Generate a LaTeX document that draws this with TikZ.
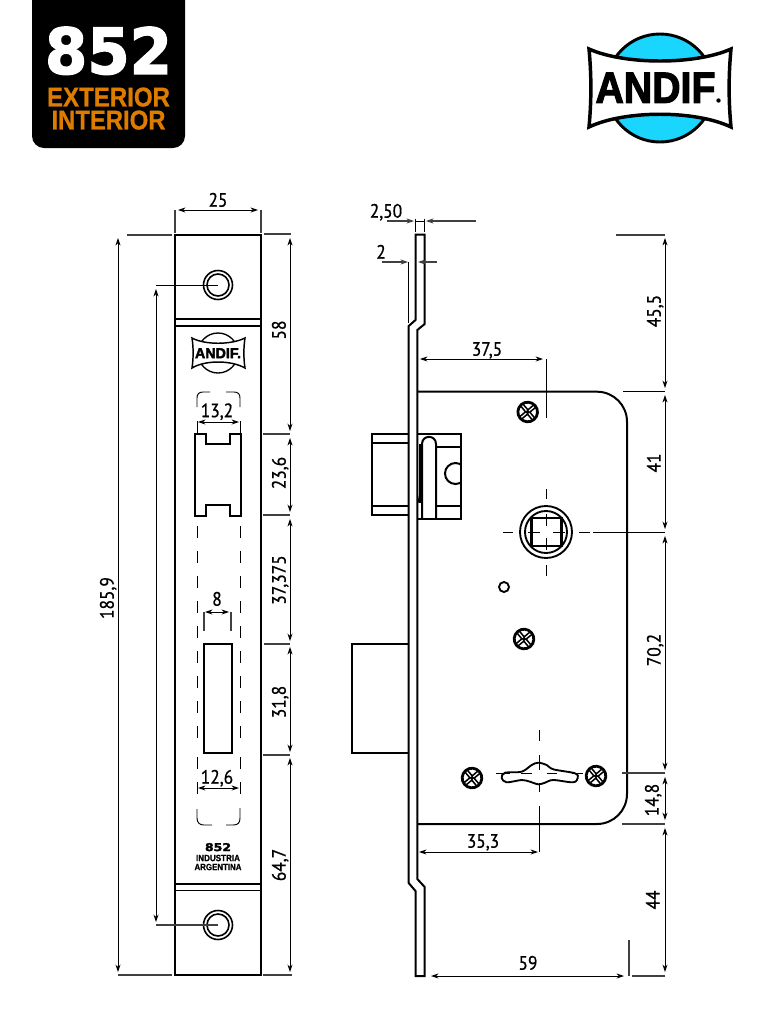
\documentclass[tikz,border=0pt]{standalone}
\usepackage{fontspec}
\usepackage{graphicx}
\usetikzlibrary{arrows.meta}
\setmainfont[FakeBold=0.8,FakeStretch=0.9]{PT Sans}
\newfontfamily\heavy[BoldFeatures={FakeBold=2.2}]{DejaVu Sans}
\newfontfamily\heavyb[BoldFeatures={FakeBold=0.8}]{Liberation Sans}
\newfontfamily\heavyc[BoldFeatures={FakeBold=2.6}]{Liberation Sans}
\definecolor{andifblue}{HTML}{1AD6FF}
\definecolor{badgeorange}{HTML}{DE7C00}
\definecolor{extgray}{HTML}{404040}
\tikzset{
  obj/.style={line width=1.5pt,black,line join=miter},
  thinobj/.style={line width=0.9pt,black},
  dim/.style={line width=0.75pt,black,{Stealth[length=5.6pt,width=3.8pt]}-{Stealth[length=5.6pt,width=3.8pt]}},
  onearrow/.style={line width=0.9pt,extgray,-{Stealth[length=5.6pt,width=3.8pt]}},
  ext/.style={line width=0.9pt,extgray},
  extk/.style={line width=0.7pt,black},
  cl/.style={line width=0.75pt,black},
  lab/.style={inner sep=0pt,font=\fontsize{14.5pt}{14.5pt}\selectfont,text height=10pt,text depth=0pt,black},
  rlab/.style={lab,rotate=90},
}
\newcommand{\screw}[3]{%
  \begin{scope}[shift={(#1,#2)},rotate=#3]
    \fill[white] (0,0) circle (10);
    \draw[line width=3.4pt,black] (-8.5,0) -- (8.5,0) (0,-8.5) -- (0,8.5);
    \draw[line width=0.9pt,white] (-9,0) -- (-1.8,0) (1.8,0) -- (9,0) (0,-9) -- (0,-1.8) (0,1.8) -- (0,9);
    \draw[line width=2.1pt,black] (0,0) circle (9.8);
  \end{scope}}
\begin{document}
\begin{tikzpicture}[x=0.75pt,y=-0.75pt]
\useasboundingbox (0,0) rectangle (768,1033);
\fill[white] (0,0) rectangle (768,1033);
% badge
\fill[black,rounded corners=9pt] (32,-20) -- (185,-20) -- (185,148) -- (32,148) -- cycle;
\node[inner sep=0,white,anchor=south] (bignum) at (108.5,75) {\resizebox{95.25pt}{35.25pt}{\heavy\bfseries 852}};
\node[inner sep=0,badgeorange,anchor=south] (ext) at (108.5,107) {\resizebox{92.25pt}{14.25pt}{\heavyb\bfseries EXTERIOR}};
\node[inner sep=0,badgeorange,anchor=south] (int) at (108.5,130) {\resizebox{85.5pt}{14.25pt}{\heavyb\bfseries INTERIOR}};
% logo
\draw[fill=andifblue,line width=2.2pt] (660,88) circle (54);
\draw[fill=white,line width=2.6pt,line join=miter] (589,49) .. controls (625,65) and (695,65) .. (731,49)
  .. controls (728.5,75) and (728.5,101) .. (731,127)
  .. controls (695,110) and (625,110) .. (589,127)
  .. controls (591.5,101) and (591.5,75) .. (589,49) -- cycle;
\node[inner sep=0,anchor=south] (logotext) at (655.5,103) {\resizebox{90pt}{22.5pt}{\heavyc\bfseries ANDIF}};
\fill (718.5,100.5) circle (2.2);
% plate front
\draw[obj] (175,234.5) rectangle (261,975);
\draw[obj] (175,318.5) -- (261,318.5);
\draw[obj] (175,326) -- (261,326);
\draw[obj] (175,884) -- (261,884);
\draw[line width=1.1pt] (175,890.5) -- (261,890.5);
\foreach \y in {285,925}{
  \draw[line width=1.2pt] (218,\y) circle (14.5);
  \draw[line width=1.2pt] (218,\y) circle (11);
}
% small logo
\draw[line width=1pt] (218,353) circle (20);
\draw[fill=white,line width=1.1pt] (192,338) .. controls (205,345) and (231,345) .. (245,338)
  .. controls (243.5,348) and (243.5,358) .. (245,368)
  .. controls (231,360) and (205,360) .. (192,368)
  .. controls (193.5,358) and (193.5,348) .. (192,338) -- cycle;
\node[inner sep=0,anchor=south] (smalllogo) at (218,358.5) {\resizebox{34.5pt}{7.5pt}{\heavyc\bfseries ANDIF.}};
% dashed outline
\draw[line width=0.7pt] (197,407) -- (197,398) .. controls (197,394) and (199,392) .. (203,392) -- (210,392);
\draw[line width=0.7pt] (226,392) -- (234,392) .. controls (238,392) and (240,394) .. (240,398) -- (240,407);
\draw[line width=0.7pt] (197,809) -- (197,818) .. controls (197,823) and (200,825) .. (204,825) -- (212,825);
\draw[line width=0.7pt] (226,825) -- (233,825) .. controls (238,825) and (240,823) .. (240,818) -- (240,808);
\foreach \y in {526,551,576,601,626,651,676,701,726,757}{
  \draw[line width=0.7pt] (197,\y) -- (197,\y+12);
  \draw[line width=0.7pt] (240,\y) -- (240,\y+12);
}
% latch opening
\draw[obj] (195,434) -- (206,434) -- (206,444) -- (230,444) -- (230,434) -- (241,434) -- (241,516) -- (230,516) -- (230,505) -- (206,505) -- (206,516) -- (195,516) -- cycle;
\draw[obj] (204,644) rectangle (232,753);
% left dims
\draw[dim] (178,210) -- (258,210);
\draw[ext] (175,210) -- (175,233) (261,210) -- (261,233);
\node[lab] (l25) at (218,200) {25};
\draw[dim] (118,238) -- (118,972);
\draw[ext] (127,235) -- (172,235) (118,975) -- (172,975);
\node[rlab] (l185) at (107,598) {185,9};
\draw[dim] (156,289) -- (156,922);
\draw[extk] (156,285) -- (218,285);
\draw[ext] (156,925) -- (218,925);
\draw[dim] (290,238) -- (290,431);
\draw[dim] (290,438) -- (290,512);
\draw[dim] (290,519) -- (290,641);
\draw[dim] (290,647) -- (290,752);
\draw[dim] (290,758) -- (290,972);
\draw[ext] (264,234) -- (291,234) (263,434) -- (290,434) (263,515) -- (290,515) (264,644) -- (290,644) (263,755) -- (290,755) (263,975) -- (292,975);
\node[rlab] (l58) at (279,330) {58};
\node[rlab] (l236) at (279,473) {23,6};
\node[rlab] (l37375) at (279,580) {37,375};
\node[rlab] (l318) at (279,702) {31,8};
\node[rlab] (l647) at (279,865) {64,7};
\draw[dim] (198,422) -- (239,422);
\draw[extk] (197,421) -- (197,433) (240,421) -- (240,433);
\node[lab] (l132) at (217,410.5) {13,2};
\draw[dim] (205,612) -- (229,612);
\draw[ext] (204,612) -- (204,631) (231,612) -- (231,631);
\node[lab] (l8) at (217,599) {8};
\draw[dim] (198,788) -- (239,788);
\draw[extk] (197,782) -- (197,794) (240,782) -- (240,794);
\node[lab] (l126) at (217,777) {12,6};
\node[inner sep=0,anchor=south] (t852) at (218,851.5) {\resizebox{19.5pt}{6pt}{\heavy\bfseries 852}};
\node[inner sep=0,anchor=south] (tind) at (218,861.5) {\resizebox{33pt}{4.8pt}{\heavyb\bfseries INDUSTRIA}};
\node[inner sep=0,anchor=south] (targ) at (218,870.5) {\resizebox{35.2pt}{4.8pt}{\heavyb\bfseries ARGENTINA}};
% side profile
\draw[obj] (415.5,234.5) -- (424.7,234.5) -- (424.7,324) -- (417.3,330) -- (417.3,879) -- (424.7,887) -- (424.7,976) -- (415.5,976) -- (415.5,891) -- (408.7,883) -- (408.7,326) -- (415.5,320) -- cycle;
% case
\draw[obj,rounded corners=22.5pt] (417.3,391.7) -- (627,391.7) -- (627,824) -- (417.3,824);
% latch
\draw[obj] (408.7,434) -- (372,434) -- (372,515) -- (408.7,515);
\draw[obj] (372,443) -- (408.7,443) (372,506) -- (408.7,506);
\draw[obj] (417.3,434) -- (461,434) -- (461,518.5) -- (417.3,518.5);
\draw[obj] (436,447) -- (461,447) (436,506) -- (461,506);
\draw[obj] (422,518.5) -- (422,444) .. controls (422,434.5) and (436,434.5) .. (436,444) -- (436,518.5);
\draw[line width=0.8pt] (420,444) -- (420,503);
\draw[line width=0.8pt] (418,503) -- (422,482);
\begin{scope}
  \clip (440,455) rectangle (461,490);
  \draw[obj] (455.5,473.5) circle (10.5);
\end{scope}
% bolt
\draw[obj] (408.7,644) -- (351.5,644) -- (351.5,753) -- (408.7,753);
% screws
\screw{527.7}{412}{40}
\screw{524}{639}{40}
\screw{472}{778}{40}
\screw{596}{776}{40}
\draw[line width=1.4pt] (504,587) circle (5);
% spindle
\draw[line width=1.4pt] (546,532) circle (26);
\draw[line width=1.4pt] (546,532) circle (21);
\draw[line width=1.6pt] (531.5,518) rectangle (561.5,546);
\draw[cl] (546,489) -- (546,499) (546,514) -- (546,526) (546,538) -- (546,550) (546,565) -- (546,576);
\draw[cl] (503,532) -- (513,532) (528,532) -- (540,532) (553,532) -- (565,532) (579,532) -- (590,532) (593,532) -- (665,532);
% keyhole
\draw[line width=1.4pt] plot[smooth cycle,tension=0.55] coordinates {(501.7,778) (505,772.7) (521.7,771.7) (531.7,765) (538.3,762.7) (546.7,765) (553.3,769.3) (575,773.3) (577.7,778) (573,782.3) (553.3,780) (545,782.7) (538.3,784.3) (530,781.7) (521.7,780) (506.7,782.3)};
\draw[cl] (495.7,773) -- (510,773) (520.7,773) -- (531.7,773) (546.7,773) -- (557,773) (571.7,773) -- (582.7,773);
\draw[cl] (539,730) -- (539,741) (539,755) -- (539,770) (539,783) -- (539,792) (539,806) -- (539,852);
% side dims
\draw[onearrow] (387,221) -- (414,221);
\draw[onearrow] (476,221) -- (426,221);
\draw[extk] (415.7,219) -- (415.7,232) (424.3,219) -- (424.3,232) (415.7,221) -- (424.3,221);
\node[lab] (l250) at (386,211) {2,50};
\draw[onearrow] (382,262) -- (408,262);
\draw[onearrow] (437,262) -- (418,262);
\draw[extk] (408.7,262) -- (408.7,323);
\node[lab] (l2) at (381,252) {2};
\draw[dim] (420,359) -- (543,359);
\draw[extk] (546,359) -- (546,418);
\node[lab] (l375) at (487,349) {37,5};
\draw[dim] (419,852) -- (538,852);
\node[lab] (l353) at (483,841) {35,3};
\draw[dim] (431,976) -- (624,976);
\draw[ext] (629,940) -- (629,976) (632,976) -- (665,976);
\node[lab] (l59) at (528,963) {59};
\draw[dim] (665,238) -- (665,388);
\draw[dim] (665,395) -- (665,529);
\draw[dim] (665,536) -- (665,770);
\draw[dim] (665,777) -- (665,820);
\draw[dim] (665,828) -- (665,972);
\draw[ext] (616,235) -- (665,235) (622,773) -- (665,773) (622,824) -- (665,824);
\draw[extk] (623,391.7) -- (665,391.7);
\node[rlab] (l455) at (654,311) {45,5};
\node[rlab] (l41) at (654,463) {41};
\node[rlab] (l702) at (654,650) {70,2};
\node[rlab] (l148) at (652,800) {14,8};
\node[rlab] (l44) at (653,900) {44};
\end{tikzpicture}
\end{document}
